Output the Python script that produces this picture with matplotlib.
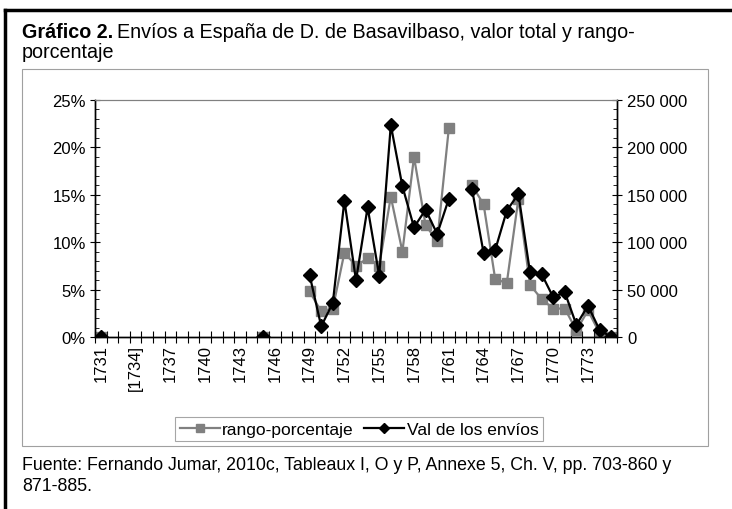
import numpy as np
import matplotlib
matplotlib.use("Agg")
import matplotlib.pyplot as plt
from matplotlib.lines import Line2D
from matplotlib.patches import Rectangle
from matplotlib.ticker import FuncFormatter, MultipleLocator, FixedLocator

plt.rcParams['font.family'] = ['Liberation Sans', 'DejaVu Sans']

nan = np.nan
years = list(range(1731, 1776))
tick_years = list(range(1731, 1776, 3))
tick_labels = ['[1734]' if y == 1734 else str(y) for y in tick_years]

# rango-porcentaje (%), 1731..1775
pct = [0, nan, nan, nan, nan, nan, nan, nan, nan, nan, nan, nan, nan, nan,
       0, nan, nan, nan,
       4.8, 2.7, 3.0, 8.9, 7.5, 8.3, 7.5, 14.8, 9.0, 19.0, 11.8, 10.1, 22.0,
       nan,
       16.0, 14.0, 6.1, 5.7, 14.6, 5.5, 4.0, 3.0, 3.0, 0.7, 2.8, 0.4, 0]

# Val de los envíos, 1731..1775
val = [0, nan, nan, nan, nan, nan, nan, nan, nan, nan, nan, nan, nan, nan,
       0, nan, nan, nan,
       65400, 11300, 35900, 143800, 59800, 136800, 64700, 223600, 159000,
       115700, 134300, 108700, 145600,
       nan,
       156100, 88600, 91800, 133300, 150900, 68200, 66500, 41900, 47100,
       12800, 33000, 7400, 0]

W, H = 732, 510
fig = plt.figure(figsize=(W / 100, H / 100), dpi=100)

def fx(px):
    return px / W

def fy(py):
    return 1 - py / H

ax = fig.add_axes([fx(95), fy(338), fx(617) - fx(95), fy(101) - fy(338)])
ax2 = ax.twinx()

x = np.arange(len(years))
pct_arr = np.array(pct, dtype=float) / 100
val_arr = np.array(val, dtype=float)

ax.plot(x, pct_arr, color='#808080', lw=1.6, marker='s', ms=7.5,
        mfc='#808080', mec='#808080', label='rango-porcentaje')
ax2.plot(x, val_arr, color='black', lw=1.6, marker='D', ms=7,
         mfc='black', mec='black', label='Val de los envíos')

ax.set_xlim(-0.5, len(years) - 0.5)
ax.set_ylim(0, 0.25)
ax2.set_ylim(0, 250000)

# x axis: labels at category centres, tick marks at category boundaries
ax.xaxis.set_major_locator(FixedLocator([years.index(y) for y in tick_years]))
ax.set_xticklabels(tick_labels, rotation=90, fontsize=12)
ax.xaxis.set_minor_locator(FixedLocator(np.arange(-0.5, len(years), 1)))
ax.tick_params(axis='x', which='major', length=0, pad=5)
ax.tick_params(axis='x', which='minor', direction='inout', length=8, width=0.8)

ax.yaxis.set_major_locator(MultipleLocator(0.05))
ax.yaxis.set_minor_locator(MultipleLocator(0.01))
ax.yaxis.set_major_formatter(FuncFormatter(lambda v, p: f'{v * 100:.0f}%'))
ax.tick_params(axis='y', which='major', direction='inout', length=7, width=0.8, labelsize=12, pad=3)
ax.tick_params(axis='y', which='minor', direction='in', length=3, width=0.6)

ax2.yaxis.set_major_locator(MultipleLocator(50000))
ax2.yaxis.set_minor_locator(MultipleLocator(10000))
ax2.yaxis.set_major_formatter(FuncFormatter(lambda v, p: f'{int(v):,}'.replace(',', ' ')))
ax2.tick_params(axis='y', which='major', direction='inout', length=7, width=0.8, labelsize=12, pad=4)
ax2.tick_params(axis='y', which='minor', direction='in', length=3, width=0.6)

for a in (ax, ax2):
    a.spines['top'].set_color('#808080')
    for s in ('left', 'right', 'bottom'):
        a.spines[s].set_color('black')
        a.spines[s].set_linewidth(1.0)

h1, l1 = ax.get_legend_handles_labels()
h2, l2 = ax2.get_legend_handles_labels()
leg = fig.legend(h1 + h2, l1 + l2, loc='center', bbox_to_anchor=(fx(359), fy(430)),
                 ncol=2, fontsize=12.5, frameon=True, fancybox=False, edgecolor='#909090',
                 handlelength=2.3, handletextpad=0.15, columnspacing=0.6,
                 borderpad=0.25, markerscale=0.8)
leg.get_frame().set_linewidth(0.8)

# chart frame and page borders
fig.add_artist(Rectangle((fx(22), fy(447)), fx(708) - fx(22), fy(70) - fy(447),
                         transform=fig.transFigure, fill=False, ec='#a0a0a0', lw=0.8))
fig.add_artist(Line2D([fx(5), 1], [fy(11), fy(11)], transform=fig.transFigure, color='black', lw=2.5))
fig.add_artist(Line2D([fx(5), fx(5)], [fy(11), 0], transform=fig.transFigure, color='black', lw=2.5))

# title: bold part followed by regular text
t1 = fig.text(fx(22), fy(38), 'Gráfico 2.', fontsize=14.2, fontweight='bold', ha='left', va='baseline')
fig.canvas.draw()
bb = t1.get_window_extent()
fig.text(bb.x1 / W + fx(4), fy(38), 'Envíos a España de D. de Basavilbaso, valor total y rango-',
         fontsize=14.2, ha='left', va='baseline')
fig.text(fx(22), fy(58), 'porcentaje', fontsize=14.2, ha='left', va='baseline')

fig.text(fx(22), fy(470), 'Fuente: Fernando Jumar, 2010c, Tableaux I, O y P, Annexe 5, Ch. V, pp. 703-860 y',
         fontsize=12.8, ha='left', va='baseline')
fig.text(fx(22), fy(491), '871-885.', fontsize=12.8, ha='left', va='baseline')

fig.savefig('out.png', dpi=100)
